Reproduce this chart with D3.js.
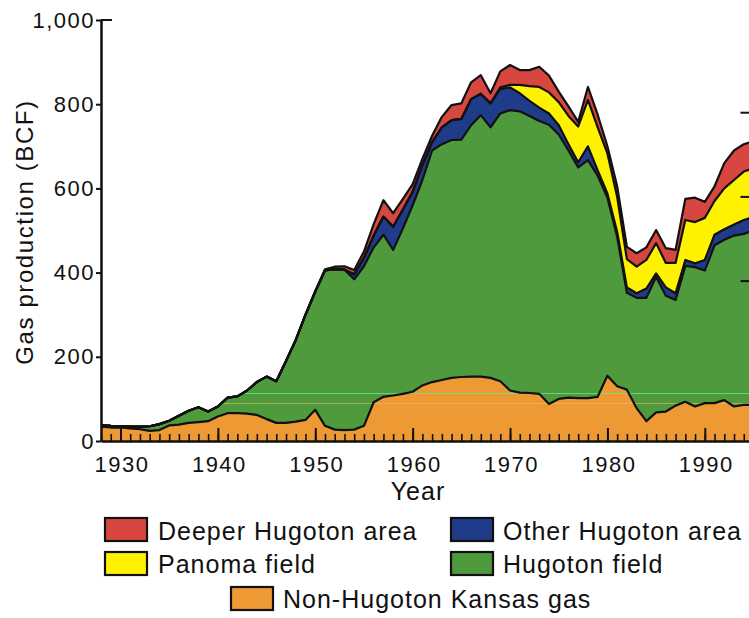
<!DOCTYPE html>
<html>
<head>
<meta charset="utf-8">
<script src="https://cdn.jsdelivr.net/npm/d3@7"></script>
<style>
  body { margin: 0; background: #fff; }
  svg { display: block; }
  text { font-family: "Liberation Sans", Arial, Helvetica, sans-serif; fill: #111; }
</style>
</head>
<body>
<svg id="chart" width="749" height="618"></svg>
<script>
// Kansas natural gas production, 1928-1995, billion cubic feet (BCF)
const years = d3.range(1928, 1996);

const nonHugoton = [
  34, 32, 32, 30, 28, 24, 26, 37, 39, 43,
  45, 47, 58, 66, 66, 65, 62, 52, 43, 43,
  46, 50, 74, 36, 27, 26, 27, 36, 92, 105,
  108, 112, 117, 132, 140, 145, 150, 152, 153, 153,
  150, 142, 120, 115, 114, 112, 88, 100, 103, 102,
  102, 105, 155, 130, 122, 78, 47, 68, 70, 84,
  93, 82, 90, 90, 97, 82, 86, 86
];

const hugotonField = [
  4, 4, 3, 4, 6, 11, 14, 11, 21, 29,
  35, 23, 24, 37, 40, 55, 78, 101, 99, 147,
  194, 250, 281, 369, 381, 381, 357, 379, 368, 385,
  346, 393, 443, 488, 550, 560, 565, 564, 597, 621,
  595, 636, 666, 668, 658, 648, 663, 628, 587, 548,
  565, 525, 423, 355, 230, 262, 293, 322, 275, 251,
  323, 331, 315, 375, 381, 406, 406, 414
];

const otherHugoton = [
  0, 0, 0, 0, 0, 0, 0, 0, 0, 0,
  0, 0, 0, 0, 0, 0, 0, 0, 0, 0,
  0, 0, 0, 0, 0, 0, 12, 20, 28, 43,
  55, 45, 32, 35, 20, 40, 47, 49, 62, 51,
  57, 58, 54, 43, 36, 32, 27, 22, 15, 12,
  33, 13, 10, 12, 13, 11, 22, 8, 20, 16,
  14, 9, 25, 25, 25, 26, 33, 32
];

const panomaField = [
  0, 0, 0, 0, 0, 0, 0, 0, 0, 0,
  0, 0, 0, 0, 0, 0, 0, 0, 0, 0,
  0, 0, 0, 0, 0, 0, 0, 0, 0, 0,
  0, 0, 0, 0, 0, 0, 0, 0, 0, 0,
  0, 4, 6, 20, 35, 49, 50, 55, 67, 85,
  110, 102, 95, 83, 67, 63, 68, 72, 58, 72,
  95, 98, 100, 80, 97, 106, 115, 116
];

const deeperHugoton = [
  0, 0, 0, 0, 0, 0, 0, 0, 0, 0,
  0, 0, 0, 0, 0, 0, 0, 0, 0, 0,
  0, 0, 0, 3, 6, 8, 10, 15, 27, 39,
  32, 25, 18, 15, 15, 25, 36, 37, 40, 44,
  24, 38, 47, 35, 38, 48, 40, 25, 23, 11,
  31, 30, 17, 25, 29, 32, 30, 31, 35, 31,
  50, 58, 38, 35, 60, 70, 65, 64
];

// stacking order, bottom to top
const seriesKeys = ["nonHugoton", "hugoton", "other", "panoma", "deeper"];
const seriesNames = {
  deeper: "Deeper Hugoton area",
  other: "Other Hugoton area",
  panoma: "Panoma field",
  hugoton: "Hugoton field",
  nonHugoton: "Non-Hugoton Kansas gas"
};
const colors = {
  nonHugoton: "#ee9a34",
  hugoton: "#4e9a3d",
  other: "#1f3c8b",
  panoma: "#fff200",
  deeper: "#d8473f"
};

const yTicks = [0, 200, 400, 600, 800, 1000];
const decadeTicks = [1930, 1940, 1950, 1960, 1970, 1980, 1990];
const rightTicks = [400, 600, 800];

const table = years.map((yr, i) => ({
  year: yr,
  nonHugoton: nonHugoton[i],
  hugoton: hugotonField[i],
  other: otherHugoton[i],
  panoma: panomaField[i],
  deeper: deeperHugoton[i]
}));

const svg = d3.select("#chart");

const x = d3.scaleLinear().domain([1928, 1995]).range([101, 753.5]);
const y = d3.scaleLinear().domain([0, 1000]).range([441, 20]);
// secondary scale on the right-hand frame
const yRight = d3.scaleLinear().domain([0, 1000]).range([449, 28]);

const stacked = d3.stack().keys(seriesKeys)(table);

const area = d3.area()
  .x(d => x(d.data.year))
  .y0(d => y(d[0]))
  .y1(d => y(d[1]));

const topLine = d3.line()
  .x(d => x(d.data.year))
  .y(d => y(d[1]));

const plot = svg.append("g");

plot.selectAll("path.layer")
  .data(stacked)
  .join("path")
  .attr("class", "layer")
  .attr("d", area)
  .attr("fill", d => colors[d.key]);

// thin print streaks running through the coloured fill
svg.append("clipPath").attr("id", "fillClip")
  .append("path")
  .attr("d", d3.area()
    .x(d => x(d.data.year))
    .y0(y(0))
    .y1(d => y(d[1]))(stacked[stacked.length - 1]));

const streaks = plot.append("g").attr("clip-path", "url(#fillClip)");
streaks.append("line")
  .attr("x1", 101).attr("x2", 760)
  .attr("y1", 393.5).attr("y2", 393.5)
  .attr("stroke", "#5cf08c").attr("stroke-width", 1).attr("opacity", 0.75);
streaks.append("line")
  .attr("x1", 101).attr("x2", 760)
  .attr("y1", 403.5).attr("y2", 403.5)
  .attr("stroke", "#f3b873").attr("stroke-width", 1).attr("opacity", 0.6);

plot.selectAll("path.edge")
  .data(stacked)
  .join("path")
  .attr("class", "edge")
  .attr("d", topLine)
  .attr("fill", "none")
  .attr("stroke", "#111")
  .attr("stroke-width", 2.2)
  .attr("stroke-linejoin", "round");

// bottom axis: yearly minor ticks and decade ticks pointing into the plot
const xMinor = d3.axisBottom(x)
  .tickValues(years)
  .tickSizeInner(-7)
  .tickSizeOuter(0)
  .tickFormat("");
const gxMinor = svg.append("g").attr("transform", `translate(0,${y(0)})`).call(xMinor);
gxMinor.select(".domain").remove();
gxMinor.selectAll(".tick line").attr("stroke", "#111").attr("stroke-width", 1.6);

const xMajor = d3.axisBottom(x)
  .tickValues(decadeTicks)
  .tickSizeInner(-13)
  .tickSizeOuter(0)
  .tickPadding(15)
  .tickFormat(d3.format("d"));
const gx = svg.append("g").attr("transform", `translate(0,${y(0)})`).call(xMajor);
gx.select(".domain").attr("stroke", "#111").attr("stroke-width", 2.5);
gx.selectAll(".tick line").attr("stroke", "#111").attr("stroke-width", 2);
gx.selectAll(".tick text")
  .attr("font-size", 22)
  .attr("letter-spacing", 1.5)
  .attr("dx", "1")
  .attr("fill", "#111");

// left axis
const yAxis = d3.axisLeft(y)
  .tickValues(yTicks)
  .tickSizeInner(5)
  .tickSizeOuter(0)
  .tickPadding(1)
  .tickFormat(d3.format(","));
const gy = svg.append("g").attr("transform", `translate(${x(1928)},0)`).call(yAxis);
gy.select(".domain").attr("stroke", "#111").attr("stroke-width", 2.5);
gy.selectAll(".tick line").attr("stroke", "#111").attr("stroke-width", 2);
gy.selectAll(".tick text")
  .attr("font-size", 22)
  .attr("letter-spacing", 1.5)
  .attr("fill", "#111");
// cap tick at the top of the scale
svg.append("line")
  .attr("x1", x(1928)).attr("x2", x(1928) + 11)
  .attr("y1", y(1000)).attr("y2", y(1000))
  .attr("stroke", "#111").attr("stroke-width", 2);

// right-hand frame ticks
const yRightAxis = d3.axisRight(yRight)
  .tickValues(rightTicks)
  .tickSizeInner(-13)
  .tickSizeOuter(0)
  .tickFormat("");
const gyr = svg.append("g").attr("transform", `translate(${x(1995)},0)`).call(yRightAxis);
gyr.select(".domain").attr("stroke", "#111").attr("stroke-width", 2.5);
gyr.selectAll(".tick line").attr("stroke", "#111").attr("stroke-width", 2);

// axis titles
svg.append("text")
  .attr("x", 418).attr("y", 500)
  .attr("text-anchor", "middle")
  .attr("font-size", 25)
  .attr("letter-spacing", 1)
  .text("Year");

svg.append("text")
  .attr("transform", "translate(33,232) rotate(-90)")
  .attr("text-anchor", "middle")
  .attr("font-size", 24)
  .attr("letter-spacing", 1.6)
  .text("Gas production (BCF)");

// legend
const legendItems = [
  { key: "deeper", sx: 105, sy: 518, tx: 158, ty: 539.5 },
  { key: "other", sx: 451, sy: 518, tx: 503, ty: 539.5 },
  { key: "panoma", sx: 105, sy: 552, tx: 158, ty: 573 },
  { key: "hugoton", sx: 451, sy: 552, tx: 503, ty: 573 },
  { key: "nonHugoton", sx: 231, sy: 587, tx: 283, ty: 608 }
];

const legend = svg.append("g");
legendItems.forEach(it => {
  legend.append("rect")
    .attr("x", it.sx).attr("y", it.sy)
    .attr("width", 42).attr("height", 23)
    .attr("fill", colors[it.key])
    .attr("stroke", "#111").attr("stroke-width", 2.2);
  legend.append("text")
    .attr("x", it.tx).attr("y", it.ty)
    .attr("font-size", 25)
    .attr("letter-spacing", 1)
    .text(seriesNames[it.key]);
});
</script>
</body>
</html>
